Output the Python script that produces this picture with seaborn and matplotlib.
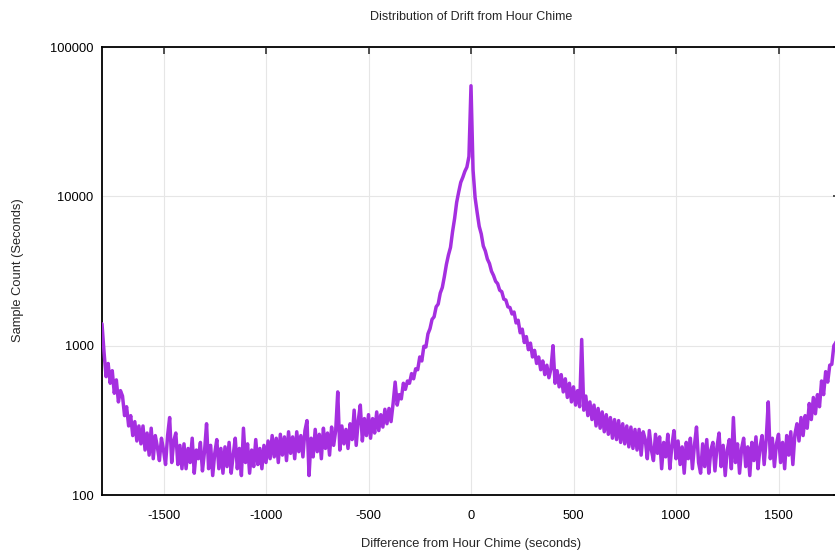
import numpy as np
import pandas as pd
import matplotlib
matplotlib.use("Agg")
import matplotlib.pyplot as plt
import seaborn as sns
from matplotlib.ticker import LogLocator, NullFormatter, FixedLocator

# ---- data (one value every 10 s) ----
seconds = list(range(-1800, 1801, 10))

counts = [
    # -1800 .. -1610
    1400, 900, 620, 760, 560, 680, 480, 590, 420, 500, 460, 340, 390, 290, 340, 250, 310, 230, 290, 220,
    # -1600 .. -1410
    290, 200, 260, 185, 280, 175, 250, 210, 170, 240, 200, 160, 250, 330, 165, 230, 260, 160, 215, 150,
    # -1400 .. -1210
    220, 150, 205, 165, 240, 140, 200, 175, 225, 145, 195, 300, 150, 215, 135, 190, 235, 150, 205, 140,
    # -1200 .. -1010
    210, 155, 225, 140, 185, 240, 150, 205, 135, 280, 165, 220, 140, 200, 155, 235, 160, 205, 150, 215,
    # -1000 .. -810
    165, 230, 175, 250, 180, 240, 165, 255, 185, 245, 170, 265, 190, 245, 175, 265, 195, 250, 180, 270,
    # -800 .. -610
    315, 135, 240, 180, 275, 195, 255, 175, 280, 205, 260, 185, 285, 215, 270, 490, 200, 290, 220, 275,
    # -600 .. -410
    205, 300, 235, 370, 215, 315, 400, 230, 325, 250, 345, 240, 325, 260, 360, 270, 345, 285, 375, 300,
    # -400 .. -210
    380, 310, 410, 570, 400, 470, 440, 560, 510, 580, 560, 650, 600, 700, 690, 840, 790, 990, 980, 1200,
    # -200 .. -10
    1300, 1500, 1560, 1820, 1900, 2250, 2450, 2900, 3500, 4050, 4550, 5800, 7100, 9100, 10700, 12400,
    13400, 14700, 15700, 18500,
    # 0
    55000,
    # 10 .. 200
    15000, 9800, 7800, 6300, 5600, 4650, 4300, 3800, 3550, 3150, 2950, 2700, 2600, 2350, 2300, 2050,
    2020, 1820, 1800, 1630,
    # 210 .. 400
    1680, 1420, 1480, 1220, 1290, 1050, 1150, 940, 1040, 840, 930, 760, 840, 690, 790, 640, 740, 610, 700, 1000,
    # 410 .. 600
    560, 680, 530, 640, 490, 600, 450, 560, 420, 530, 400, 500, 390, 1100, 370, 460, 340, 420, 320, 400,
    # 610 .. 800
    290, 380, 280, 360, 265, 345, 255, 330, 240, 320, 235, 315, 225, 300, 220, 290, 210, 285, 205, 275,
    # 810 .. 1000
    200, 275, 185, 265, 235, 175, 270, 200, 170, 255, 190, 245, 150, 225, 180, 255, 150, 215, 270, 175,
    # 1010 .. 1200
    230, 160, 210, 140, 225, 175, 240, 150, 215, 285, 165, 140, 220, 155, 235, 140, 200, 225, 145, 210,
    # 1210 .. 1400
    260, 155, 215, 135, 200, 235, 150, 330, 165, 220, 140, 205, 240, 155, 210, 135, 225, 170, 245, 150,
    # 1410 .. 1600
    210, 250, 160, 235, 420, 175, 240, 155, 220, 255, 165, 225, 150, 250, 185, 265, 160, 255, 300, 230,
    # 1610 .. 1800
    330, 250, 340, 280, 410, 320, 450, 350, 470, 390, 580, 470, 670, 570, 740, 750, 1000, 1050, 1250, 1400,
]
assert len(counts) == len(seconds)

x_ticks = [-1500, -1000, -500, 0, 500, 1000, 1500]
y_ticks = [100, 1000, 10000, 100000]
y_tick_labels = ["100", "1000", "10000", "100000"]

title = "Distribution of Drift from Hour Chime"
x_label = "Difference from Hour Chime (seconds)"
y_label = "Sample Count (Seconds)"
line_color = "#a52fe0"

df = pd.DataFrame({"seconds": seconds, "count": counts})

# ---- style ----
sns.set_style("white")
plt.rcParams["font.family"] = ["Liberation Sans", "DejaVu Sans"]

W, H = 835, 550
fig = plt.figure(figsize=(W / 100, H / 100), dpi=100)
left_px, right_px, top_px, bottom_px = 102, 840, 47, 495
ax = fig.add_axes([left_px / W, 1 - bottom_px / H,
                   (right_px - left_px) / W, (bottom_px - top_px) / H])

sns.lineplot(data=df, x="seconds", y="count", ax=ax, color=line_color,
             linewidth=2.5, zorder=3)

ax.set_yscale("log")
ax.set_xlim(-1800, 1800)
ax.set_ylim(100, 100000)

ax.xaxis.set_major_locator(FixedLocator(x_ticks))
ax.set_xticklabels([str(v) for v in x_ticks])
ax.yaxis.set_major_locator(FixedLocator(y_ticks))
ax.set_yticklabels(y_tick_labels)
ax.yaxis.set_minor_locator(LogLocator(base=10, subs=np.arange(2, 10)))
ax.yaxis.set_minor_formatter(NullFormatter())

ax.grid(True, which="major", color="#e6e6e6", linewidth=0.8, zorder=0)
ax.set_axisbelow(True)

for side in ["left", "bottom", "top", "right"]:
    ax.spines[side].set_color("black")
    ax.spines[side].set_linewidth(1.3)

ax.tick_params(axis="both", which="major", direction="in", length=5, width=1.2,
               color="#333333", labelsize=9.3, labelcolor="black",
               top=True, right=True)
ax.tick_params(axis="x", which="major", pad=11)
ax.tick_params(axis="y", which="major", pad=6)
ax.tick_params(axis="y", which="minor", direction="in", length=3, width=1.0,
               color="#333333", right=True)

ax.set_xlabel("")
ax.set_ylabel("")

fig.text(471 / W, 1 - 17 / H, title, ha="center", va="center", fontsize=9)
fig.text(471 / W, 1 - 544 / H, x_label, ha="center", va="center", fontsize=9.3)
fig.text(18 / W, 1 - 270 / H, y_label, ha="center", va="center", fontsize=9.3,
         rotation=90)

fig.savefig("out.png", dpi=100)
